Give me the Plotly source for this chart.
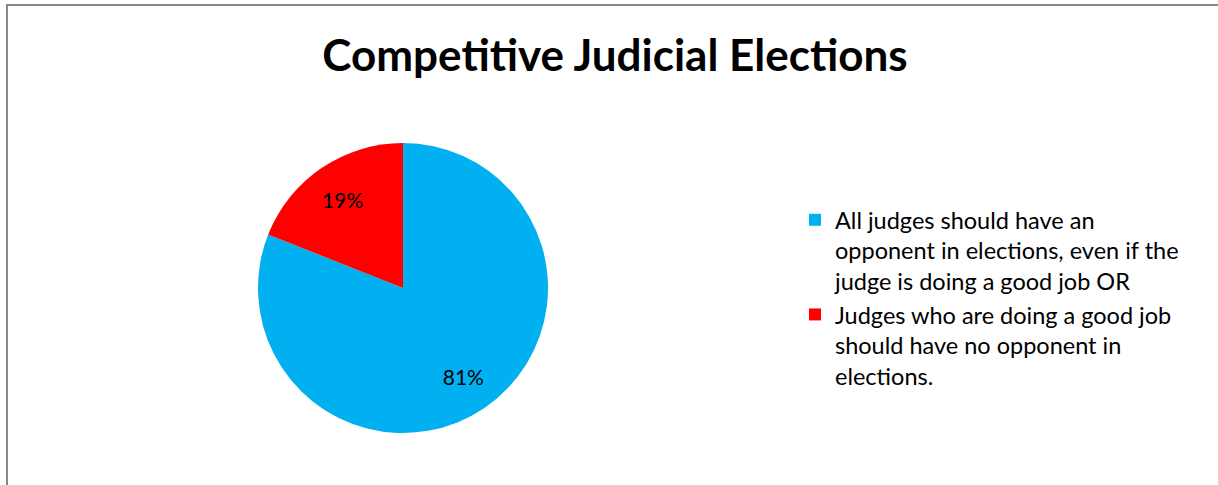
import plotly.graph_objects as go

labels = [
    "All judges should have an<br>opponent in elections, even if the<br>judge is doing a good job OR",
    "Judges who are doing a good job<br>should have no opponent in<br>elections.",
]
values = [81, 19]
colors = ["#00B0F0", "#FF0000"]
title = "Competitive Judicial Elections"

W, H = 1218, 485
dom = dict(x=[258 / W, 548 / W], y=[52 / H, 342 / H])

fig = go.Figure()
fig.add_trace(go.Pie(
    labels=labels, values=values, sort=False, direction="clockwise", rotation=0,
    marker=dict(colors=colors, line=dict(width=0)),
    textinfo="none", domain=dom, hoverinfo="label+percent",
))
# transparent ring used only to position the percentage labels like the original
fig.add_trace(go.Pie(
    labels=labels, values=values, sort=False, direction="clockwise", rotation=0,
    hole=0.48, showlegend=False,
    marker=dict(colors=["rgba(0,0,0,0)"] * len(values), line=dict(width=0)),
    textinfo="percent", textposition="inside", insidetextorientation="horizontal",
    textfont=dict(size=21, color="#000000", family="Lato"),
    domain=dom, hoverinfo="skip",
))
fig.update_layout(
    width=W, height=H,
    margin=dict(l=0, r=0, t=0, b=0),
    paper_bgcolor="white", plot_bgcolor="white",
    font=dict(family="Lato", color="#000000"),
    title=dict(text="<b>" + title + "</b>", x=615 / W, xanchor="center",
               y=1 - 56 / H, yanchor="middle", font=dict(size=44, family="Lato")),
    legend=dict(x=795 / W, y=1 - 198 / H, xanchor="left", yanchor="top",
                font=dict(size=23.5, family="Lato"), valign="top",
                itemsizing="constant"),
    shapes=[dict(type="rect", xref="paper", yref="paper",
                 x0=7 / W, x1=1.05, y0=-0.05, y1=1 - 5 / H,
                 line=dict(color="#888888", width=2), layer="above")],
)
fig.write_html("out.html", post_script="document.body.style.margin='0';",
               config={"displayModeBar": False})
